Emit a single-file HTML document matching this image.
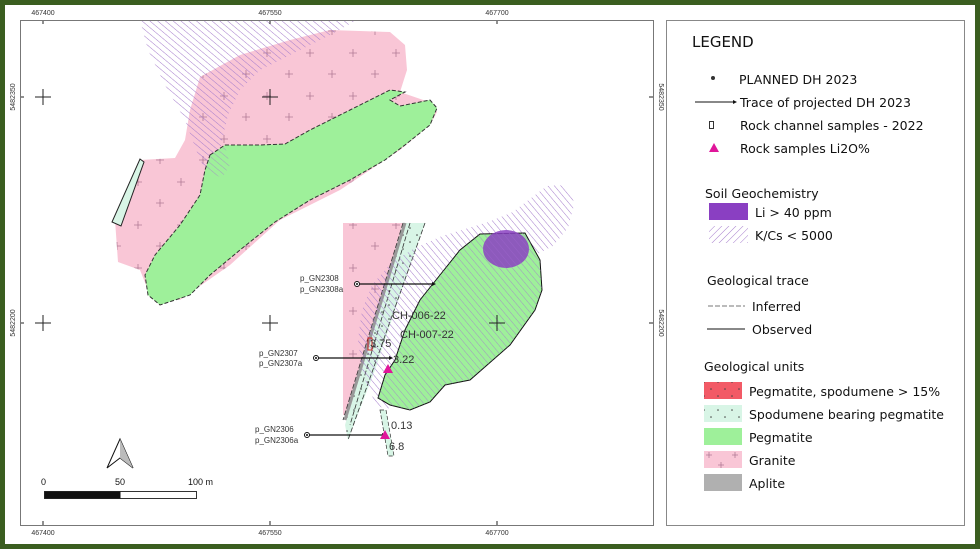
<!DOCTYPE html>
<html><head><meta charset="utf-8"><style>
html,body{margin:0;padding:0;background:#fff}
svg{display:block;font-family:"Liberation Sans",sans-serif}
</style></head><body>
<svg width="980" height="549" viewBox="0 0 980 549" xmlns="http://www.w3.org/2000/svg">
<defs>
<pattern id="hm" width="5" height="5" patternUnits="userSpaceOnUse" patternTransform="rotate(-50)">
<line x1="0" y1="0" x2="0" y2="5" stroke="#a57ccc" stroke-width="1"/></pattern>
<pattern id="hl" width="5" height="5" patternUnits="userSpaceOnUse" patternTransform="rotate(-40)">
<line x1="0" y1="0" x2="0" y2="5" stroke="#a57ccc" stroke-width="1"/></pattern>
<pattern id="hs" width="5" height="5" patternUnits="userSpaceOnUse" patternTransform="rotate(45)">
<line x1="0" y1="0" x2="0" y2="5" stroke="#a77fce" stroke-width="1"/></pattern>
<pattern id="gr" width="43" height="43" patternUnits="userSpaceOnUse">
<path d="M5 10h8M9 6v8M27 31h8M31 27v8" stroke="#b07a95" stroke-width="0.8"/></pattern>
<pattern id="sp" width="14" height="14" patternUnits="userSpaceOnUse">
<circle cx="4" cy="4" r="0.8" fill="#444"/><circle cx="11" cy="11" r="0.8" fill="#444"/></pattern>
</defs>
<rect x="0" y="0" width="980" height="549" fill="#3b5e20"/>
<rect x="5" y="5" width="970" height="539" fill="#fff"/>
<rect x="20.5" y="20.5" width="633" height="505" fill="#fff" stroke="#777"/>
<svg x="21" y="21" width="632" height="504" viewBox="21 21 632 504">
<path d="M200 77L240 55L290 40L330 30L390 32L405 45L407 70L400 92L432 103L437 112L430 125L400 150L340 190L280 220L230 265L180 300L150 295L140 270L118 262L115 220L130 190L140 160L175 158L185 140L190 110Z" fill="#f9c6d6"/>
<path d="M200 77L240 55L290 40L330 30L390 32L405 45L407 70L400 92L432 103L437 112L430 125L400 150L340 190L280 220L230 265L180 300L150 295L140 270L118 262L115 220L130 190L140 160L175 158L185 140L190 110Z" fill="url(#gr)"/>
<path d="M140 20L357 20L330 35L300 50L260 70L240 90L228 115L220 150L210 175L200 160L185 120L165 85L148 50Z" fill="url(#hm)"/>
<path d="M210 155L225 145L260 145L285 144L310 130L350 110L390 90L405 92L390 100L400 106L430 100L437 108L430 125L405 145L385 160L350 180L310 200L275 222L240 250L210 275L190 295L160 305L148 295L145 275L155 255L180 225L200 195L205 170Z" fill="#9ef09a" stroke="#333" stroke-width="1" stroke-dasharray="4,2"/>
<path d="M205 170L212 152L225 146L230 165L222 178Z" fill="url(#hm)" opacity="0.7"/>
<path d="M140 159L144 162L121 226L112 222Z" fill="#d8f5e6" stroke="#222" stroke-width="1"/>
<path d="M343 223L405 223L390 270L360 370L346 415L343 415Z" fill="#f9c6d6"/>
<path d="M343 223L405 223L390 270L360 370L346 415L343 415Z" fill="url(#gr)"/>
<path d="M403 223L425 223L405 280L375 370L348 440L345 425L370 340Z" fill="#d8f5e6"/>
<path d="M403 223L425 223L405 280L375 370L348 440L345 425L370 340Z" fill="url(#sp)"/>
<path d="M405 223L345 420" stroke="#999" stroke-width="3"/>
<path d="M403 223L343 420M425 223L348 440M410 223L350 425" stroke="#333" stroke-width="0.8" stroke-dasharray="5,2"/>
<path d="M547 186L560 185L572 192L574 205L568 228L553 246L530 258L500 268L470 280L445 300L420 335L400 380L388 410L376 405L363 375L358 340L362 310L372 285L392 262L415 248L442 236L488 222L513 212Z" fill="url(#hl)"/>
<path d="M480 234L525 233L540 260L542 290L535 310L510 345L470 380L445 385L430 402L410 410L390 405L378 398L385 375L395 360L405 330L420 300L440 275L460 250Z" fill="#9ef09a" stroke="#111" stroke-width="1"/>
<path d="M480 234L525 233L540 260L542 290L535 310L510 345L470 380L445 385L430 402L410 410L390 405L378 398L385 375L395 360L405 330L420 300L440 275L460 250Z" fill="url(#hl)" opacity="0.8"/>
<ellipse cx="506" cy="249" rx="23" ry="19" fill="#8a3fc2" opacity="0.85"/>
<ellipse cx="506" cy="249" rx="23" ry="19" fill="url(#hl)" opacity="0.5"/>
<path d="M380 410L386 410L394 456L388 456Z" fill="#d8f5e6" stroke="#333" stroke-width="0.7" stroke-dasharray="4,2"/>
<g stroke="#222" stroke-width="1">
<path d="M35 97h16M43 89v16M262 97h16M270 89v16M35 323h16M43 315v16M262 323h16M270 315v16M489 323h16M497 315v16"/>
<path d="M43 20v4M270 20v4M497 20v4M43 525v-4M270 525v-4M497 525v-4M20 97h4M20 323h4M653 97h-4M653 323h-4"/>
</g>
<g stroke="#111" stroke-width="1.2"><path d="M357 284H433M316 358H390M307 435H383"/></g>
<g fill="#111"><path d="M436 284l-4-2v4z"/><path d="M393 358l-4-2v4z"/><path d="M386 435l-4-2v4z"/></g>
<g fill="#fff" stroke="#111" stroke-width="1"><circle cx="357" cy="284" r="2.5"/><circle cx="316" cy="358" r="2.5"/><circle cx="307" cy="435" r="2.5"/></g>
<g fill="#111"><circle cx="357" cy="284" r="1"/><circle cx="316" cy="358" r="1"/><circle cx="307" cy="435" r="1"/></g>
<g fill="#e0169a"><path d="M388 364l5 9h-10z"/><path d="M385 430l5 9h-10z"/></g>
<path d="M368 338h4v12h-4z" fill="none" stroke="#c22" stroke-width="1"/>
<g font-size="8" fill="#333">
<text x="300" y="281">p_GN2308</text><text x="300" y="292">p_GN2308a</text>
<text x="259" y="356">p_GN2307</text><text x="259" y="366">p_GN2307a</text>
<text x="255" y="432">p_GN2306</text><text x="255" y="443">p_GN2306a</text>
</g>
<g font-size="11" fill="#333">
<text x="392" y="319">CH-006-22</text><text x="400" y="338">CH-007-22</text>
<text x="370" y="347">3.75</text><text x="393" y="363">3.22</text>
<text x="391" y="429">0.13</text><text x="389" y="450">6.8</text>
</g>
<path d="M120 439L107 468L120 458L133 468Z" fill="#fff" stroke="#111" stroke-width="1"/>
<path d="M120 439L120 458L133 468Z" fill="#bbb"/>
<rect x="44.5" y="491.5" width="152" height="7" fill="#fff" stroke="#333"/>
<rect x="44.5" y="491.5" width="76" height="7" fill="#111"/>
<g font-size="9" fill="#111"><text x="41" y="485">0</text><text x="115" y="485">50</text><text x="188" y="485">100 m</text></g>
</svg>
<g font-size="7" fill="#333" text-anchor="middle">
<text x="43" y="15">467400</text><text x="270" y="15">467550</text><text x="497" y="15">467700</text>
<text x="43" y="535">467400</text><text x="270" y="535">467550</text><text x="497" y="535">467700</text>
<text transform="translate(15,97) rotate(-90)">5482350</text>
<text transform="translate(15,323) rotate(-90)">5482200</text>
<text transform="translate(659,97) rotate(90)">5482350</text>
<text transform="translate(659,323) rotate(90)">5482200</text>
</g>
<rect x="666.5" y="20.5" width="298" height="505" fill="#fff" stroke="#888"/>
<g font-family="'DejaVu Sans',sans-serif" fill="#111">
<text x="692" y="47" font-size="15">LEGEND</text>
<circle cx="713" cy="78" r="2" fill="#333"/>
<text x="739" y="84" font-size="12.5">PLANNED DH 2023</text>
<path d="M695 102H733" stroke="#111"/><path d="M737 102l-4-2v4z"/>
<text x="740" y="107" font-size="12.5">Trace of projected DH 2023</text>
<rect x="709.5" y="121.5" width="4" height="7" fill="none" stroke="#333"/>
<text x="740" y="130" font-size="12.5">Rock channel samples - 2022</text>
<path d="M714 143l5 9h-10z" fill="#e0169a"/>
<text x="740" y="153" font-size="12.5">Rock samples Li2O%</text>
<text x="705" y="198" font-size="12.5">Soil Geochemistry</text>
<rect x="709" y="203" width="39" height="17" fill="#8a3fc2"/>
<text x="755" y="217" font-size="12.5">Li &gt; 40 ppm</text>
<rect x="709" y="226" width="39" height="17" fill="url(#hs)"/>
<text x="755" y="240" font-size="12.5">K/Cs &lt; 5000</text>
<text x="707" y="285" font-size="12.5">Geological trace</text>
<path d="M708 306H745" stroke="#777" stroke-dasharray="5,2"/>
<text x="752" y="311" font-size="12.5">Inferred</text>
<path d="M707 329H745" stroke="#111"/>
<text x="752" y="334" font-size="12.5">Observed</text>
<text x="704" y="371" font-size="12.5">Geological units</text>
<rect x="704" y="382" width="38" height="17" fill="#f25a66"/><rect x="704" y="382" width="38" height="17" fill="url(#sp)"/>
<text x="749" y="396" font-size="12.5">Pegmatite, spodumene &gt; 15%</text>
<rect x="704" y="405" width="38" height="17" fill="#d8f5e6"/><rect x="704" y="405" width="38" height="17" fill="url(#sp)"/>
<text x="749" y="419" font-size="12.5">Spodumene bearing pegmatite</text>
<rect x="704" y="428" width="38" height="17" fill="#9ef09a"/>
<text x="749" y="442" font-size="12.5">Pegmatite</text>
<rect x="704" y="451" width="38" height="17" fill="#f9c6d6"/><path d="M706 455h6M709 452v6M732 455h6M735 452v6M718 465h6M721 462v6" stroke="#b07a95" stroke-width="0.8"/>
<text x="749" y="465" font-size="12.5">Granite</text>
<rect x="704" y="474" width="38" height="17" fill="#b0b0b0"/>
<text x="749" y="488" font-size="12.5">Aplite</text>
</g>
</svg>
</body></html>
